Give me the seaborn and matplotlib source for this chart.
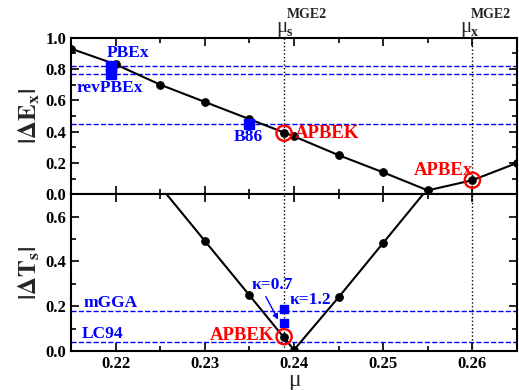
import matplotlib
matplotlib.use("Agg")
import matplotlib.pyplot as plt
import seaborn as sns
import numpy as np
import pandas as pd
from matplotlib.ticker import MultipleLocator

# ---- data ----
mu_ex = [0.215, 0.22, 0.225, 0.23, 0.235, 0.24, 0.245, 0.25, 0.255, 0.26, 0.265]
dEx = [0.93, 0.83, 0.70, 0.59, 0.48, 0.37, 0.25, 0.14, 0.025, 0.09, 0.20]

mu_ts = [0.225, 0.23, 0.235, 0.24, 0.245, 0.25, 0.255]
dTs = [0.735, 0.492, 0.249, 0.005, 0.24, 0.483, 0.726]

mu_mge2_s = 0.23889
mu_mge2_x = 0.260
apbek_ex = 0.39
apbex_ex = 0.09
apbek_ts = 0.064

ref_ex_names = ["PBEx", "revPBEx", "B86"]
ref_ex_vals = [0.82, 0.77, 0.447]
ref_ex_mu = [0.2195, 0.2195, 0.235]

ref_ts_names = ["mGGA", "LC94"]
ref_ts_vals = [0.18, 0.04]
kappa_labels = ["\u03ba=0.7", "\u03ba=1.2"]
kappa_vals = [0.124, 0.186]

xticks = [0.22, 0.23, 0.24, 0.25, 0.26]

sns.set_theme(style="ticks")
plt.rcParams['font.family'] = ['Liberation Serif', 'DejaVu Serif']
plt.rcParams['font.weight'] = 'bold'
plt.rcParams['mathtext.fontset'] = 'stix'

W, H = 519, 390
fig = plt.figure(figsize=(W/100, H/100), dpi=100)
L, R = 71/W, 517/W
ax1 = fig.add_axes([L, 1-194.3/H, R-L, (194.3-37.7)/H])
ax2 = fig.add_axes([L, 1-351/H, R-L, (351-194.3)/H], sharex=ax1)

blue = '#0000ff'
red = '#ff0000'
lab_fs = 12.5

for ax in (ax1, ax2):
    for sp in ax.spines.values():
        sp.set_linewidth(1.5)
        sp.set_color('black')
    ax.tick_params(which='both', direction='in', top=True, right=True, width=1.2,
                   labelsize=12, colors='black')
    ax.tick_params(which='major', length=6)
    ax.tick_params(which='minor', length=3.5)
    ax.xaxis.set_minor_locator(MultipleLocator(0.005))
    ax.yaxis.set_minor_locator(MultipleLocator(0.1))
    ax.axvline(mu_mge2_s, color='black', ls=':', lw=1.0, zorder=1)
    ax.axvline(mu_mge2_x, color='black', ls=':', lw=1.0, zorder=1)

# top panel
df1 = pd.DataFrame({"mu": mu_ex, "dE": dEx})
sns.lineplot(data=df1, x="mu", y="dE", ax=ax1, color='black', lw=1.5,
             marker='o', markersize=5.5, markeredgecolor='black', zorder=3)
for v in ref_ex_vals:
    ax1.axhline(v, color=blue, ls='--', lw=1.0, zorder=2)
ax1.scatter(ref_ex_mu, ref_ex_vals, marker='s', s=45, color=blue, zorder=4)
ax1.scatter([mu_mge2_s], [apbek_ex], s=28, color='black', zorder=5)
ax1.scatter([mu_mge2_s, mu_mge2_x], [apbek_ex, apbex_ex], s=120, facecolors='none',
            edgecolors=red, linewidths=1.7, zorder=6)
ax1.text(0.2190, 0.905, ref_ex_names[0], color=blue, fontsize=lab_fs, fontweight='bold', va='center')
ax1.text(0.2156, 0.68, ref_ex_names[1], color=blue, fontsize=lab_fs, fontweight='bold', va='center')
ax1.text(0.2332, 0.366, ref_ex_names[2], color=blue, fontsize=lab_fs, fontweight='bold', va='center')
ax1.text(0.2401, 0.39, "APBEK", color=red, fontsize=13.5, fontweight='bold', va='center')
ax1.text(0.2534, 0.155, "APBEx", color=red, fontsize=13.5, fontweight='bold', va='center')
ax1.set_ylim(0, 1.0)
ax1.set_yticks([0.0, 0.2, 0.4, 0.6, 0.8, 1.0])
ax1.set_xlim(0.215, 0.265)
ax1.set_xlabel("")
ax1.set_ylabel(r"$|\mathbf{\Delta E}_\mathbf{x}|$", fontsize=18, labelpad=2)
plt.setp(ax1.get_xticklabels(), visible=False)

# top labels (mu^MGE2)
def mu_label(xpix, sub):
    fig.text(xpix/W, 1-32/H, "\u03bc", fontsize=15, fontweight='normal', va='baseline', ha='left')
    fig.text((xpix+11)/W, 1-36/H, sub, fontsize=10, fontweight='bold', va='baseline', ha='left')
    fig.text((xpix+11)/W, 1-17.5/H, "MGE2", fontsize=10, fontweight='bold', va='baseline', ha='left')

mu_label(276, "s")
mu_label(460, "x")

# bottom panel
df2 = pd.DataFrame({"mu": mu_ts, "dT": dTs})
sns.lineplot(data=df2, x="mu", y="dT", ax=ax2, color='black', lw=1.5,
             marker='o', markersize=5.5, markeredgecolor='black', zorder=3)
for v in ref_ts_vals:
    ax2.axhline(v, color=blue, ls='--', lw=1.0, zorder=2)
ax2.scatter([mu_mge2_s]*2, kappa_vals, marker='s', s=40, color=blue, zorder=4)
ax2.scatter([mu_mge2_s], [apbek_ts], s=28, color='black', zorder=5)
ax2.scatter([mu_mge2_s], [apbek_ts], s=120, facecolors='none',
            edgecolors=red, linewidths=1.7, zorder=6)
ax2.text(0.2164, 0.216, ref_ts_names[0], color=blue, fontsize=lab_fs, fontweight='bold', va='center')
ax2.text(0.2162, 0.076, ref_ts_names[1], color=blue, fontsize=lab_fs, fontweight='bold', va='center')
ax2.text(0.2353, 0.295, kappa_labels[0], color=blue, fontsize=lab_fs, fontweight='bold', va='center')
ax2.text(0.2395, 0.228, kappa_labels[1], color=blue, fontsize=lab_fs, fontweight='bold', va='center')
ax2.annotate("", xy=(0.23837, 0.129), xytext=(0.23669, 0.254),
             arrowprops=dict(arrowstyle='-|>', color=blue, lw=1.0, mutation_scale=8))
ax2.text(0.2378, 0.068, "APBEK", color=red, fontsize=13.5, fontweight='bold', va='center', ha='right')
ax2.set_ylim(0, 0.7)
ax2.set_yticks([0.0, 0.2, 0.4, 0.6])
ax2.set_xticks(xticks)
ax2.set_xticklabels([f"{t:.2f}" for t in xticks])
ax2.set_xlim(0.215, 0.265)
ax2.set_xlabel("\u03bc", fontsize=17, fontweight='normal', labelpad=-1)
ax2.set_ylabel(r"$|\mathbf{\Delta T}_\mathbf{s}|$", fontsize=18, labelpad=2)
for lbl in ax2.get_xticklabels() + ax2.get_yticklabels() + ax1.get_yticklabels():
    lbl.set_fontweight('bold')

fig.savefig("out.png", dpi=100)
